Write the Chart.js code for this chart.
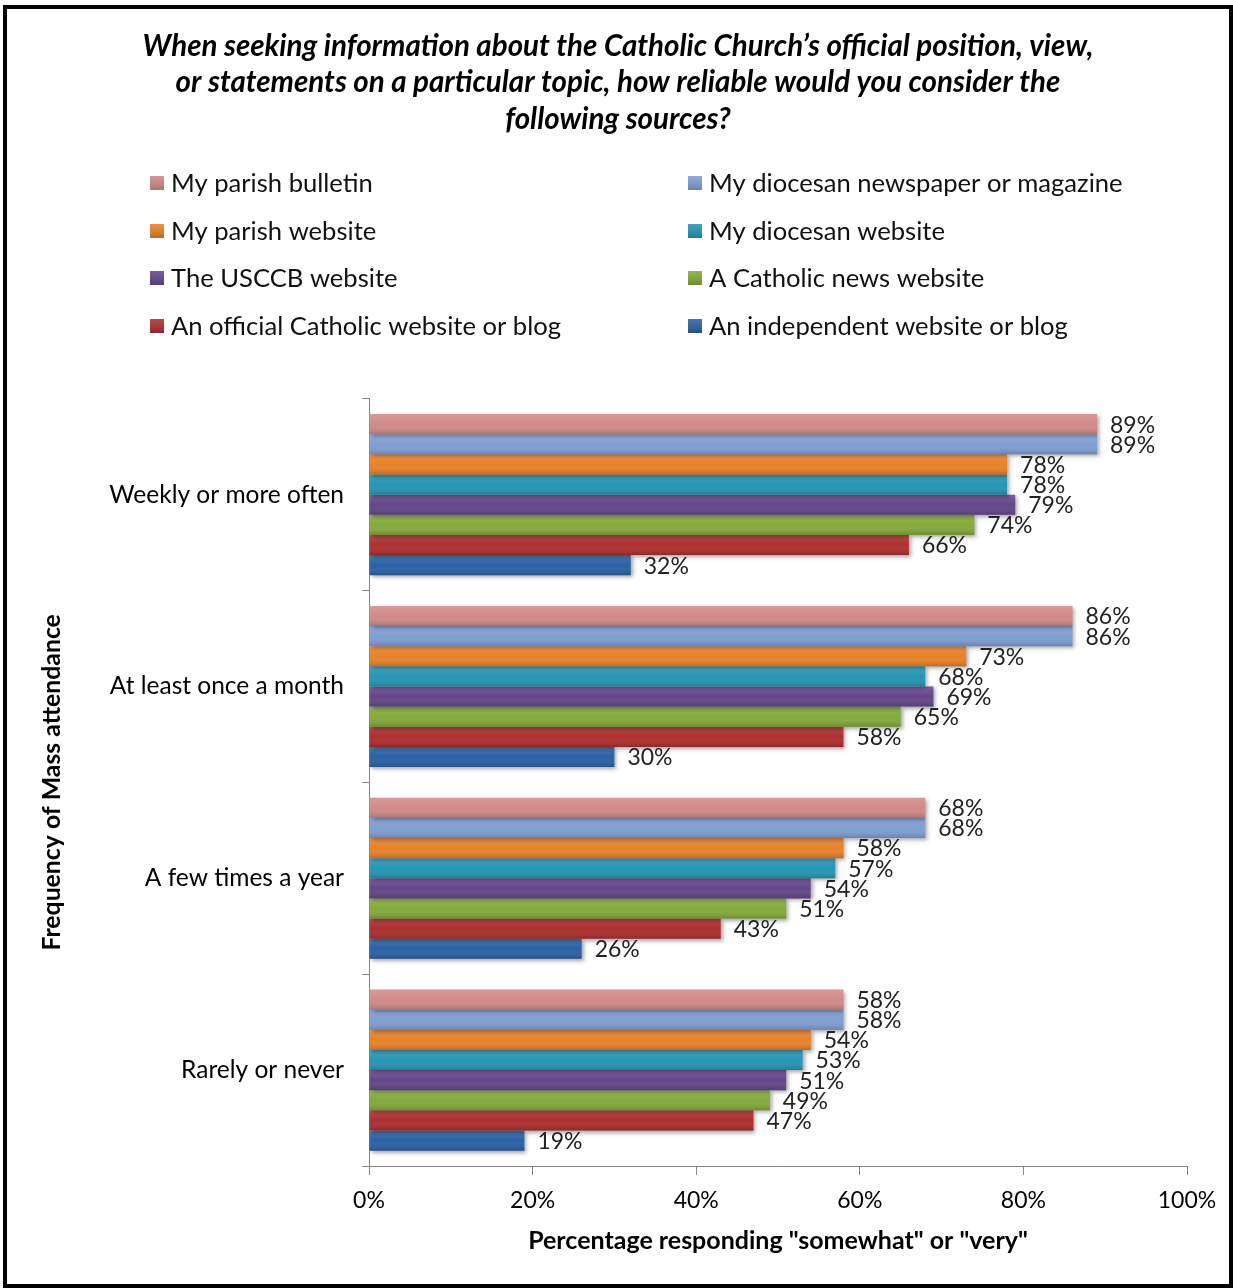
<!DOCTYPE html>
<html>
<head>
<meta charset="utf-8">
<script src="https://cdn.jsdelivr.net/npm/chart.js@4"></script>
<style>
  html, body { margin: 0; padding: 0; background: #fff; }
  #frame {
    position: absolute; left: 3px; top: 5px;
    width: 1230px; height: 1283px;
    box-sizing: border-box; border: 4px solid #000; background: #fff;
  }
  #chart { display: block; }
</style>
</head>
<body>
<div id="frame"><canvas id="chart" width="1222" height="1275"></canvas></div>
<script>
// categories (mass attendance) and series values in %
const categories = ['Weekly or more often', 'At least once a month', 'A few times a year', 'Rarely or never'];
const seriesNames = [
  'My parish bulletin', 'My diocesan newspaper or magazine',
  'My parish website', 'My diocesan website',
  'The USCCB website', 'A Catholic news website',
  'An official Catholic website or blog', 'An independent website or blog'
];
const parishBulletin    = [89, 86, 68, 58];
const diocesanPaper     = [89, 86, 68, 58];
const parishWebsite     = [78, 73, 58, 54];
const diocesanWebsite   = [78, 68, 57, 53];
const usccbWebsite      = [79, 69, 54, 51];
const catholicNews      = [74, 65, 51, 49];
const officialCatholic  = [66, 58, 43, 47];
const independentSite   = [32, 30, 26, 19];
const xTicks = [0, 20, 40, 60, 80, 100];

const seriesValues = [parishBulletin, diocesanPaper, parishWebsite, diocesanWebsite,
  usccbWebsite, catholicNews, officialCatholic, independentSite];
const colors = ['#d08a88', '#809ed3', '#e9822a', '#2796b5', '#65478a', '#84aa3c', '#ad2f2f', '#2b62a5'];

const FONT = 'Lato, Carlito, Calibri, sans-serif';

// excel-ish shading: drop shadow under the bars, light-to-dark overlay on top
const barShading = {
  id: 'barShading',
  beforeDatasetDraw(chart) {
    const ctx = chart.ctx;
    ctx.save();
    ctx.shadowColor = 'rgba(0,0,0,0.35)';
    ctx.shadowBlur = 4;
    ctx.shadowOffsetX = 2;
    ctx.shadowOffsetY = 2;
  },
  afterDatasetDraw(chart, args) {
    const ctx = chart.ctx;
    ctx.restore();
    args.meta.data.forEach(el => {
      const top = el.y - el.height / 2;
      const g = ctx.createLinearGradient(0, top, 0, top + el.height);
      g.addColorStop(0, 'rgba(255,255,255,0.14)');
      g.addColorStop(0.5, 'rgba(255,255,255,0)');
      g.addColorStop(1, 'rgba(0,0,0,0.18)');
      ctx.fillStyle = g;
      ctx.fillRect(el.base, top, el.x - el.base, el.height);
    });
  }
};

// value labels to the right of each bar
const valueLabels = {
  id: 'valueLabels',
  afterDatasetsDraw(chart) {
    const ctx = chart.ctx;
    ctx.save();
    ctx.font = '23px ' + FONT;
    ctx.fillStyle = '#222';
    ctx.textAlign = 'left';
    ctx.textBaseline = 'middle';
    chart.data.datasets.forEach((ds, i) => {
      chart.getDatasetMeta(i).data.forEach((el, j) => {
        ctx.fillText(ds.data[j] + '%', el.x + 13, el.y + 1);
      });
    });
    ctx.restore();
  }
};

// two-column legend under the title
const twoColLegend = {
  id: 'twoColLegend',
  afterDraw(chart) {
    const ctx = chart.ctx;
    const colX = [143, 681];
    const rowY = [174, 222, 269, 317];
    ctx.save();
    ctx.font = '25.6px ' + FONT;
    ctx.textBaseline = 'middle';
    chart.data.datasets.forEach((ds, i) => {
      const x = colX[i % 2], y = rowY[Math.floor(i / 2)];
      ctx.fillStyle = ds.backgroundColor;
      ctx.fillRect(x, y - 7, 14, 14);
      const g = ctx.createLinearGradient(0, y - 7, 0, y + 7);
      g.addColorStop(0, 'rgba(255,255,255,0.12)');
      g.addColorStop(1, 'rgba(0,0,0,0.18)');
      ctx.fillStyle = g;
      ctx.fillRect(x, y - 7, 14, 14);
      ctx.fillStyle = '#111';
      ctx.fillText(ds.label, x + 21, y + 1);
    });
    ctx.restore();
  }
};

new Chart(document.getElementById('chart'), {
  type: 'bar',
  data: {
    labels: categories,
    datasets: seriesNames.map((name, i) => ({
      label: name,
      data: seriesValues[i],
      backgroundColor: colors[i],
      borderWidth: 0,
      barPercentage: 1,
      categoryPercentage: 0.84
    }))
  },
  options: {
    indexAxis: 'y',
    responsive: false,
    animation: false,
    devicePixelRatio: 1,
    layout: { padding: { left: 42, right: 42, top: 0, bottom: 0 } },
    plugins: {
      legend: { display: false },
      tooltip: { enabled: false },
      title: {
        display: true,
        text: [
          'When seeking information about the Catholic Church\u2019s official position, view,',
          'or statements on a particular topic, how reliable would you consider the',
          'following sources?'
        ],
        color: '#000',
        font: { family: FONT, size: 29.5, weight: 'bold', style: 'italic', lineHeight: 1.24 },
        padding: { top: 19, bottom: 261 }
      }
    },
    scales: {
      x: {
        min: 0, max: 100,
        afterBuildTicks(scale) { scale.ticks = xTicks.map(v => ({ value: v })); },
        afterFit(scale) { scale.height = 118; },
        ticks: {
          color: '#000', padding: 12,
          font: { family: FONT, size: 23 },
          callback: v => v + '%'
        },
        grid: { drawOnChartArea: false, tickLength: 9, color: '#868686' },
        border: { color: '#868686' },
        title: {
          display: true,
          text: 'Percentage responding "somewhat" or "very"',
          color: '#000',
          font: { family: FONT, size: 25, weight: 'bold' },
          padding: { top: 0, bottom: 28 }
        }
      },
      y: {
        afterFit(scale) { scale.width = 320; },
        ticks: { color: '#000', padding: 18, font: { family: FONT, size: 24.5 } },
        grid: { drawOnChartArea: false, tickLength: 7, color: '#868686', offset: true },
        border: { color: '#868686' },
        title: {
          display: true,
          text: 'Frequency of Mass attendance',
          color: '#000',
          font: { family: FONT, size: 24.8, weight: 'bold' },
          padding: { top: -12, bottom: 0 }
        }
      }
    }
  },
  plugins: [barShading, valueLabels, twoColLegend]
});
</script>
</body>
</html>
